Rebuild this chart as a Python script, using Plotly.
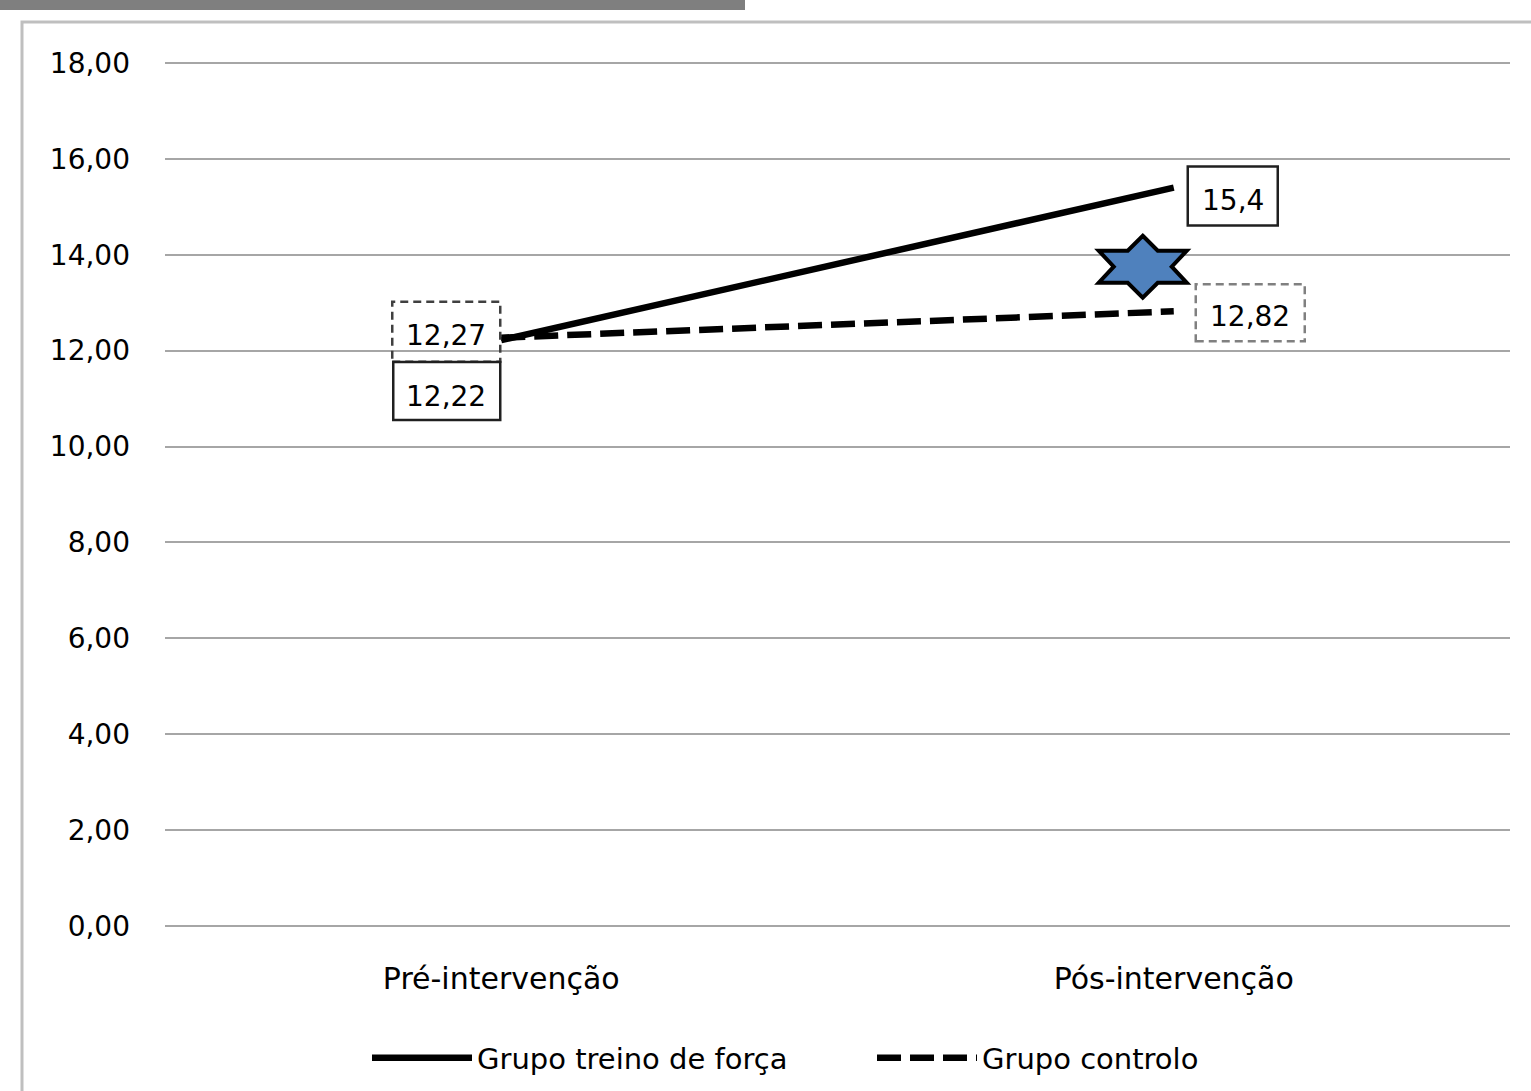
import plotly.graph_objects as go

# ---- data ----
categories = ["Pré-intervenção", "Pós-intervenção"]
series_names = ["Grupo treino de força", "Grupo controlo"]
treino_values = [12.22, 15.4]
controlo_values = [12.27, 12.82]
treino_labels = ["12,22", "15,4"]
controlo_labels = ["12,27", "12,82"]
y_ticks = [0, 2, 4, 6, 8, 10, 12, 14, 16, 18]
star_value = 13.75  # significance marker level at post-intervention

FONT = "DejaVu Sans"
W, H = 1531, 1091
ML, MR, MT, MB = 165, 21, 61, 163
PW, PH = W - ML - MR, H - MT - MB


def px2paper_x(px):
    return (px - ML) / PW


def px2paper_y(py):
    return (H - MB - py) / PH


xidx = list(range(len(categories)))

fig = go.Figure()
fig.add_trace(go.Scatter(
    x=xidx, y=treino_values, mode="lines", name=series_names[0],
    line=dict(color="black", width=6.5),
))
fig.add_trace(go.Scatter(
    x=xidx, y=controlo_values, mode="lines", name=series_names[1],
    line=dict(color="black", width=6.5, dash="24px,9px"),
))

shapes = []
annotations = []

# label boxes: (x index, value, text, box pixel offsets x0,x1,y0,y1, text shift, style, colour)
label_specs = [
    (0, controlo_values[0], controlo_labels[0], (-109, -1, -24, 36), (-55, 2), "dash", "#404040"),
    (0, treino_values[0], treino_labels[0], (-108, -1, -80, -22), (-55, -56), "solid", "#202020"),
    (1, treino_values[1], treino_labels[1], (14, 104, -38, 21), (59, -13), "solid", "#202020"),
    (1, controlo_values[1], controlo_labels[1], (22, 131, -30, 27), (76, -5), "dash", "#808080"),
]
for xi, val, txt, (bx0, bx1, by0, by1), (sx, sy), dsh, col in label_specs:
    shapes.append(dict(
        type="rect", xref="x", yref="y", xsizemode="pixel", ysizemode="pixel",
        xanchor=xi, yanchor=val, x0=bx0, x1=bx1, y0=by0, y1=by1,
        line=dict(color=col, width=2.5, dash="solid" if dsh == "solid" else "8px,5px"),
        fillcolor="rgba(0,0,0,0)", layer="above",
    ))
    annotations.append(dict(
        x=xi, y=val, xref="x", yref="y", text=txt, showarrow=False,
        xshift=sx, yshift=sy, font=dict(family=FONT, size=28, color="black"),
    ))

# six-pointed star (significance marker)
pts = [(0, 31), (15, 16), (44, 16), (29, 0), (44, -16), (15, -16), (0, -31),
       (-15, -16), (-44, -16), (-29, 0), (-44, 16), (-15, 16)]
dxs = -31
path = "M" + " L".join(f"{x + dxs},{y}" for x, y in pts) + " Z"
shapes.append(dict(
    type="path", xref="x", yref="y", xsizemode="pixel", ysizemode="pixel",
    xanchor=1, yanchor=star_value, path=path,
    fillcolor="#4F81BD", line=dict(color="black", width=4), layer="above",
))

# outer chart frame and top grey bar
shapes.append(dict(
    type="rect", xref="paper", yref="paper",
    x0=px2paper_x(22), x1=px2paper_x(1545), y0=px2paper_y(1110), y1=px2paper_y(22),
    line=dict(color="#bfbfbf", width=3), fillcolor="rgba(0,0,0,0)", layer="below",
))
shapes.append(dict(
    type="rect", xref="paper", yref="paper",
    x0=px2paper_x(-5), x1=px2paper_x(745), y0=px2paper_y(10), y1=px2paper_y(-5),
    line=dict(width=0), fillcolor="#7f7f7f", layer="below",
))

fig.update_layout(
    width=W, height=H, autosize=False,
    margin=dict(l=ML, r=MR, t=MT, b=MB, pad=0, autoexpand=False),
    paper_bgcolor="white", plot_bgcolor="white",
    separators=",.",
    font=dict(family=FONT, color="black"),
    shapes=shapes, annotations=annotations,
    showlegend=True,
    legend=dict(
        orientation="h", x=px2paper_x(367), xanchor="left",
        y=px2paper_y(1058), yanchor="middle",
        font=dict(family=FONT, size=29, color="black"),
        itemwidth=100, entrywidth=390, entrywidthmode="pixels",
        bgcolor="rgba(0,0,0,0)",
    ),
    xaxis=dict(
        range=[-0.5, 1.5], tickvals=xidx, ticktext=categories,
        showgrid=False, zeroline=False, showline=False, ticks="",
        tickfont=dict(family=FONT, size=30, color="black"),
        ticklabelstandoff=30, fixedrange=True,
    ),
    yaxis=dict(
        range=[-0.04, 18.04], tickvals=y_ticks, tickformat=".2f",
        showgrid=True, gridcolor="#a6a6a6", gridwidth=2,
        zeroline=False, showline=False, ticks="",
        tickfont=dict(family=FONT, size=28, color="black"),
        ticklabelstandoff=34, fixedrange=True,
    ),
)

fig.write_html("out.html")
